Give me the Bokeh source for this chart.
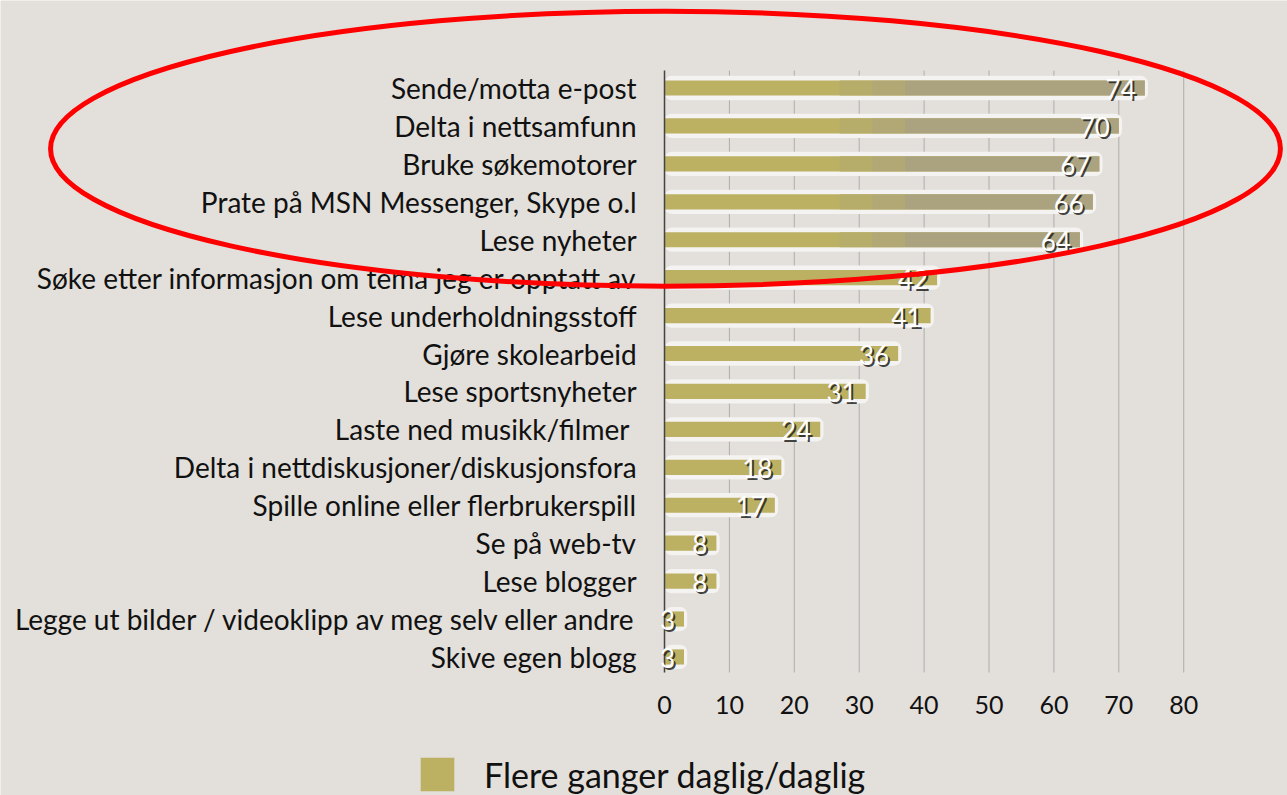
from bokeh.plotting import figure
from bokeh.models import Range1d, FixedTicker, Legend, LegendItem, LinearAxis
from bokeh.core.properties import value
from bokeh.embed import file_html
from bokeh.resources import INLINE

categories = [
    "Sende/motta e-post",
    "Delta i nettsamfunn",
    "Bruke søkemotorer",
    "Prate på MSN Messenger, Skype o.l",
    "Lese nyheter",
    "Søke etter informasjon om tema jeg er opptatt av",
    "Lese underholdningsstoff",
    "Gjøre skolearbeid",
    "Lese sportsnyheter",
    "Laste ned  musikk/filmer",
    "Delta i nettdiskusjoner/diskusjonsfora",
    "Spille online eller flerbrukerspill",
    "Se på web-tv",
    "Lese blogger",
    "Legge ut bilder / videoklipp av meg selv eller andre",
    "Skive egen blogg",
]
values = [74, 70, 67, 66, 64, 42, 41, 36, 31, 24, 18, 17, 8, 8, 3, 3]
ticks = [0, 10, 20, 30, 40, 50, 60, 70, 80]
series_name = "Flere ganger daglig/daglig"

n = len(categories)
ypos = [n - 1 - i for i in range(n)]
labels_txt = [str(v) for v in values]

FONT = "Lato"
BG = "#E3DFDA"
OLIVE = "#BCB062"
OLIVE_MID1 = "#B7AD6A"
OLIVE_MID2 = "#B1A875"
OLIVE_GRAY = "#ABA380"

p = figure(width=1287, height=795,
           x_range=Range1d(-102.31, 95.99), y_range=Range1d(-3.653, 17.307),
           output_backend="svg", toolbar_location=None, min_border=0,
           x_axis_location=None, y_axis_location=None,
           background_fill_color=BG, border_fill_color=BG,
           outline_line_color=None)
p.xgrid.visible = False
p.ygrid.visible = False

y_bot, y_top = -0.41, 15.46

# grid lines
grid_x = [t for t in ticks if t > 0]
p.segment(x0=grid_x, y0=[y_bot] * len(grid_x), x1=grid_x, y1=[y_top] * len(grid_x),
          line_color="#AEAEAE", line_width=1)

# white halo bars
p.hbar(y=ypos, left=0, right=[v + 0.5 for v in values], height=0.64,
       fill_color="#F4F3F1", line_color=None, border_radius=7)
# olive bars
bars = p.hbar(y=ypos, left=0, right=values, height=0.40,
              fill_color=OLIVE, line_color=None)
# greyer right part of long bars (gradient approximation)
long_idx = [i for i, v in enumerate(values) if v > 50]
long_y = [ypos[i] for i in long_idx]
p.hbar(y=long_y, left=27, right=32, height=0.40, fill_color=OLIVE_MID1, line_color=None)
p.hbar(y=long_y, left=32, right=37, height=0.40, fill_color=OLIVE_MID2, line_color=None)
p.hbar(y=long_y, left=37, right=[values[i] for i in long_idx],
       height=0.40, fill_color=OLIVE_GRAY, line_color=None)

# vertical axis line at 0
p.segment(x0=[0], y0=[y_bot], x1=[0], y1=[y_top], line_color="#444444", line_width=1.5)

# category labels
p.text(x=-4.3, y=ypos, text=categories, text_align="right", text_baseline="middle",
       text_font=value(FONT), text_font_size="28px", text_color="#111111")

# value labels with shadow
p.text(x=values, y=ypos, text=labels_txt, text_align="right", text_baseline="middle",
       x_offset=-7, y_offset=3, text_font=value(FONT), text_font_size="26px",
       text_color="#222222", text_alpha=0.85)
p.text(x=values, y=ypos, text=labels_txt, text_align="right", text_baseline="middle",
       x_offset=-9, y_offset=1, text_font=value(FONT), text_font_size="26px",
       text_color="#FFFFFF")

# highlight ellipse around the top five items
top5 = ypos[:5]
p.ellipse(x=[0.15], y=[sum(top5) / len(top5) + 0.40], width=[189.5], height=[7.25],
          fill_alpha=0, line_color="#FF0000", line_width=5)

# x axis
xa = LinearAxis(fixed_location=y_bot, ticker=FixedTicker(ticks=ticks))
xa.axis_line_color = None
xa.major_tick_line_color = None
xa.minor_tick_line_color = None
xa.major_label_standoff = 18
xa.major_label_text_font = FONT
xa.major_label_text_font_size = "25px"
xa.major_label_text_color = "#111111"
p.add_layout(xa, "below")

legend = Legend(items=[LegendItem(label=series_name, renderers=[bars])],
                location=(416, 0), orientation="horizontal")
legend.background_fill_alpha = 0
legend.border_line_alpha = 0
legend.padding = 0
legend.margin = 0
legend.glyph_width = 42
legend.glyph_height = 42
legend.label_standoff = 26
legend.label_text_font = FONT
legend.label_text_font_size = "34px"
legend.label_text_color = "#111111"
p.add_layout(legend, "center")

open("out.html", "w").write(file_html(p, INLINE))
